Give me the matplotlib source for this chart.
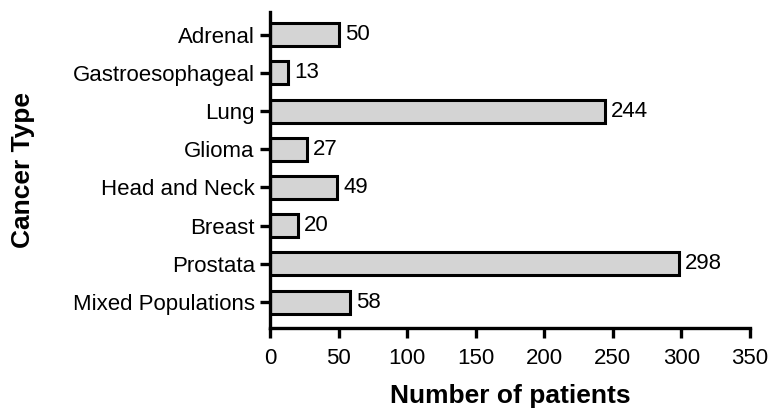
import numpy as np
import matplotlib.pyplot as plt

plt.rcParams["font.family"] = ["Liberation Sans", "DejaVu Sans"]

# data, top to bottom
cancer_types = ["Adrenal", "Gastroesophageal", "Lung", "Glioma",
                "Head and Neck", "Breast", "Prostata", "Mixed Populations"]
patients = [50, 13, 244, 27, 49, 20, 298, 58]
x_ticks = [0, 50, 100, 150, 200, 250, 300, 350]

fig = plt.figure(figsize=(7.74, 4.18), dpi=100)
ax = fig.add_axes([0.349, 0.215, 0.620, 0.757])

y = np.arange(len(cancer_types))
ax.barh(y, patients, height=0.6, color="#d4d4d4", edgecolor="black", linewidth=2.2)

for yi, v in zip(y, patients):
    ax.text(v + 4.5, yi, str(v), va="center", ha="left", fontsize=16)

ax.set_yticks(y)
ax.set_yticklabels(cancer_types, fontsize=16)
ax.set_xticks(x_ticks)
ax.set_xticklabels([str(t) for t in x_ticks], fontsize=16)
ax.set_xlim(0, 350)
ax.set_ylim(len(cancer_types) - 1 + 0.68, -0.6)

for s in ["top", "right"]:
    ax.spines[s].set_visible(False)
for s in ["left", "bottom"]:
    ax.spines[s].set_linewidth(2.4)
ax.tick_params(axis="both", length=7, width=2.4)
ax.tick_params(axis="x", pad=7)
ax.tick_params(axis="y", pad=4)

ax.set_xlabel("Number of patients", fontsize=19, fontweight="bold")
ax.set_ylabel("Cancer Type", fontsize=19, fontweight="bold")
ax.xaxis.set_label_coords(0.5, -0.175)
ax.yaxis.set_label_coords(-0.49, 0.5)

fig.savefig("out.png", dpi=100)
